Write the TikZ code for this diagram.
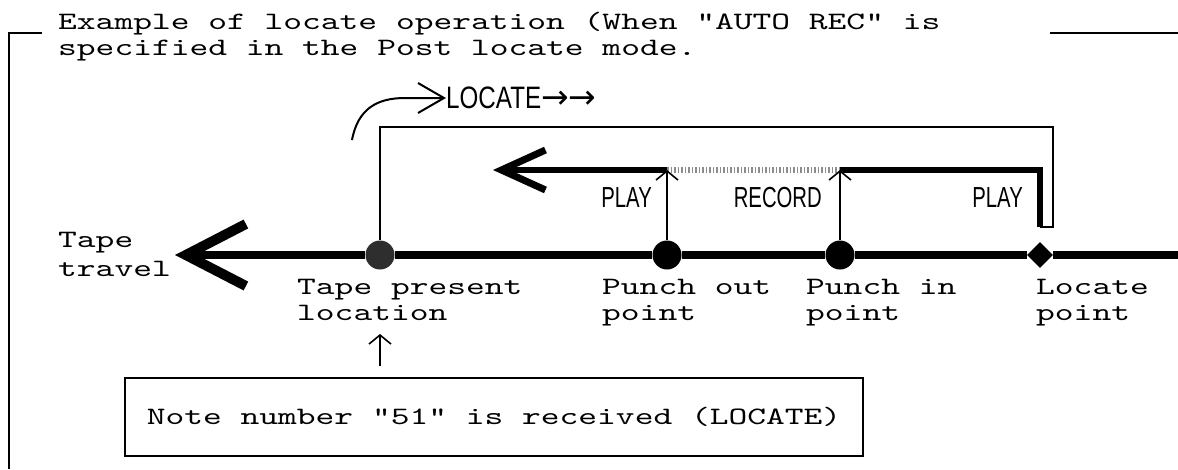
\documentclass[tikz,border=0pt]{standalone}
\usepackage{fontspec}
\newfontfamily\typefont[FakeStretch=1.43]{lmmono10-regular.otf}
\newfontfamily\condfont[FakeStretch=0.7]{Liberation Sans}
\newfontfamily\locfont[FakeStretch=0.78]{Liberation Sans}
\newfontfamily\arrowfont{DejaVu Sans}
\definecolor{tpInk}{HTML}{000000}
\definecolor{tpDot}{HTML}{2E2E2E}
\definecolor{tpHatch}{HTML}{8C8C8C}
\usetikzlibrary{calc,arrows.meta,shapes.geometric}

\begin{document}
\begin{tikzpicture}[x=1pt,y=-1pt,
  txt/.style={font=\typefont\fontsize{25}{26}\selectfont, inner sep=0pt, align=left},
  cond/.style={font=\condfont\fontsize{29}{30}\selectfont, inner sep=0pt},
  thin line/.style={draw=tpInk, line width=2pt},
  tape/.style={draw=tpInk, line width=8pt},
  route/.style={draw=tpInk, line width=6pt},
  hatch/.style={draw=tpHatch, line width=6pt, dash pattern=on 1.5pt off 2pt},
  mark up/.style={draw=tpInk, line width=1.6pt, -{Straight Barb[length=9pt,width=22pt,line width=1.6pt]}},
  spot/.style={circle, fill=tpInk, inner sep=0pt, minimum size=29pt}]
  \useasboundingbox (0,0) rectangle (1178,469);

  \draw[thin line] (42,33) -- (9,33) -- (9,469);
  \draw[thin line] (1050,33) -- (1178,33);
  \node[txt, anchor=base west, font=\typefont\fontsize{25}{25.5}\selectfont] (title) at (58,55)
    {Example of locate operation (When "AUTO REC" is\\specified in the Post locate mode.};

  \node[spot, fill=tpDot] (tp) at (380,255) {};
  \node[spot] (pout) at (667,255) {};
  \node[spot] (pin) at (840,255) {};
  \node[diamond, fill=tpInk, inner sep=0pt, minimum size=26pt] (lp) at (1040,255) {};
  \coordinate (tapeend) at (1178,255);
  \coordinate (ttip) at (175,255);
  \draw[tape, -{Straight Barb[length=60pt,width=62pt,line width=10pt]}]
    (tapeend) -- (lp) -- (pin) -- (pout) -- (tp) -- (ttip);

  \node[txt, anchor=base west, font=\typefont\fontsize{25}{29}\selectfont] (ttlbl) at (58,276) {Tape\\travel};
  \node[txt, anchor=base west] (tplbl) at (297,320) {Tape present\\location};
  \node[txt, anchor=base west] (poutlbl) at (602,320) {Punch out\\point};
  \node[txt, anchor=base west] (pinlbl) at (806,320) {Punch in\\point};
  \node[txt, anchor=base west] (lplbl) at (1036,320) {Locate\\point};

  \coordinate (c1) at (380,127);
  \coordinate (c2) at (1053,127);
  \coordinate (c3) at (1053,227);
  \coordinate (c4) at (1040,227);
  \coordinate (c5) at (1040,170);
  \coordinate (utip) at (493,170);
  \draw[thin line] (tp) -- (tp |- c1) -- (c2) -- (c3) -- (c4);
  \draw[route] (c4) -- (c5) -- (pin |- c5);
  \draw[hatch] (pin |- c5) -- (pout |- c5);
  \draw[route, -{Straight Barb[length=44pt,width=40pt,line width=7pt]}] (pout |- c5) -- (utip);
  \draw[mark up] (pout) -- (pout |- c5);
  \draw[mark up] (pin) -- (pin |- c5);

  \node[cond, anchor=base east] (play1) at (652,207) {PLAY};
  \node[cond, anchor=base east] (rec) at (822,207) {RECORD};
  \node[cond, anchor=base east] (play2) at (1023,207) {PLAY};

  \node[inner sep=0pt, anchor=west, font=\locfont\fontsize{31}{32}\selectfont] (locatelbl) at (446,98)
    {LOCATE{\arrowfont\fontsize{33}{33}\selectfont →→}};
  \coordinate (cstart) at (352,140);
  \draw[thin line, -{Straight Barb[length=26pt,width=30pt,line width=2pt]}]
    (cstart) .. controls (358,108) and (378,98) .. (405,98) -- (locatelbl.west);

  \node[txt, thin line, minimum width=738pt, minimum height=78pt] (note) at (494,417)
    {Note number "51" is received (LOCATE)};
  \coordinate (recv) at (380,366);
  \coordinate (recvtip) at (380,334);
  \draw[mark up] (recv) -- (recvtip);
\end{tikzpicture}
\end{document}
